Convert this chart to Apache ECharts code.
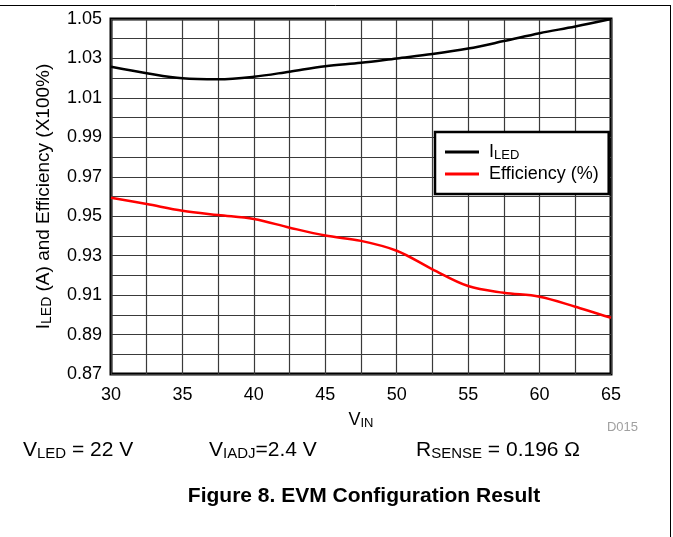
<!DOCTYPE html>
<html>
<head>
<meta charset="utf-8">
<script src="https://cdn.jsdelivr.net/npm/echarts@6/dist/echarts.min.js"></script>
<style>
html,body{margin:0;padding:0;background:#fff;}
#chart{width:673px;height:537px;}
</style>
</head>
<body>
<div id="chart"></div>
<script>
// ---- data ----
const vin = [30, 32.5, 35, 37.5, 40, 42.5, 45, 47.5, 50, 52.5, 55, 57.5, 60, 62.5, 65];
const iled = [1.0258, 1.0225, 1.0199, 1.0194, 1.0207, 1.0233, 1.0260, 1.0278, 1.0300, 1.0322, 1.0350, 1.0388, 1.0428, 1.0462, 1.0500];
const efficiency = [0.9594, 0.9562, 0.9528, 0.9506, 0.9486, 0.9442, 0.9402, 0.9375, 0.9325, 0.9231, 0.9146, 0.9112, 0.9092, 0.9041, 0.8985];
const xTickLabels = ['30', '35', '40', '45', '50', '55', '60', '65'];
const yTickLabels = ['0.87', '0.89', '0.91', '0.93', '0.95', '0.97', '0.99', '1.01', '1.03', '1.05'];
const seriesNames = ['ILED', 'Efficiency (%)'];

const FONT = "'Liberation Sans', Arial, Helvetica, sans-serif";
const chart = echarts.init(document.getElementById('chart'), null, {renderer: 'canvas'});

const subRich = (main, sub) => ({
  m: {fontSize: main, lineHeight: main + 2, fontFamily: FONT, color: '#000'},
  s: {fontSize: sub, lineHeight: sub - 2, verticalAlign: 'bottom', fontFamily: FONT, color: '#000'}
});

const option = {
  animation: false,
  backgroundColor: '#fff',
  textStyle: {fontFamily: FONT},
  grid: {
    left: 111, right: 62, top: 19, bottom: 163,
    show: true, borderColor: '#000', borderWidth: 3, backgroundColor: '#fff'
  },
  legend: {
    data: seriesNames,
    orient: 'vertical',
    left: 435, top: 132,
    backgroundColor: '#fff',
    borderColor: '#000', borderWidth: 2.5, borderRadius: 0,
    padding: [10, 10, 10, 10],
    itemWidth: 34, itemHeight: 3, itemGap: 2,
    icon: 'rect',
    formatter: name => name === 'ILED' ? '{m|I}{s|LED}' : '{m|' + name + '}',
    textStyle: {
      fontSize: 18, fontFamily: FONT, color: '#000', padding: [0, 0, 0, 5], lineHeight: 20,
      rich: {
        m: {fontSize: 18, lineHeight: 20, fontFamily: FONT, color: '#000'},
        s: {fontSize: 13, lineHeight: 11, verticalAlign: 'bottom', fontFamily: FONT, color: '#000'}
      }
    }
  },
  xAxis: {
    type: 'value', min: 30, max: 65, interval: 2.5,
    name: '{m|V}{s|IN}',
    nameLocation: 'middle', nameGap: 36,
    nameTextStyle: {rich: subRich(18, 13)},
    axisLine: {show: false}, axisTick: {show: false},
    axisLabel: {
      margin: 12, fontSize: 18, color: '#000', fontFamily: FONT,
      formatter: v => { const s = String(Math.round(v * 10) / 10); return xTickLabels.includes(s) ? s : ''; }
    },
    splitLine: {show: true, lineStyle: {color: '#3a3a3a', width: 1.2}}
  },
  yAxis: {
    type: 'value', min: 0.87, max: 1.05, interval: 0.01,
    name: '{m|I}{s|LED}{m| (A) and Efficiency (X100%)}',
    nameLocation: 'middle', nameGap: 57, nameRotate: 90,
    nameTextStyle: {rich: subRich(19, 14)},
    axisLine: {show: false}, axisTick: {show: false},
    axisLabel: {
      margin: 9, fontSize: 18, color: '#000', fontFamily: FONT,
      formatter: v => { const s = v.toFixed(2); return yTickLabels.includes(s) ? s : ''; }
    },
    splitLine: {show: true, lineStyle: {color: '#3a3a3a', width: 1.2}}
  },
  series: [
    {
      name: seriesNames[0], type: 'line', smooth: 0.35, showSymbol: false,
      data: vin.map((x, i) => [x, iled[i]]),
      lineStyle: {color: '#000', width: 2.5}, itemStyle: {color: '#000'}
    },
    {
      name: seriesNames[1], type: 'line', smooth: 0.35, showSymbol: false,
      data: vin.map((x, i) => [x, efficiency[i]]),
      lineStyle: {color: '#ff0000', width: 2.5}, itemStyle: {color: '#ff0000'}
    }
  ],
  graphic: [
    {type: 'line', shape: {x1: 0, y1: 5.5, x2: 671, y2: 5.5}, style: {stroke: '#000', lineWidth: 1}},
    {type: 'line', shape: {x1: 670.5, y1: 5, x2: 670.5, y2: 537}, style: {stroke: '#000', lineWidth: 1}},
    {type: 'text', x: 638, y: 427, style: {text: 'D015', fill: '#a0a0a0', font: '13px ' + FONT, align: 'right', verticalAlign: 'middle'}},
    {type: 'text', x: 23, y: 450, style: {text: '{m|V}{s|LED}{m| = 22 V}', rich: subRich(21, 15), verticalAlign: 'middle', align: 'left'}},
    {type: 'text', x: 209, y: 450, style: {text: '{m|V}{s|IADJ}{m|=2.4 V}', rich: subRich(21, 15), verticalAlign: 'middle', align: 'left'}},
    {type: 'text', x: 416, y: 450, style: {text: '{m|R}{s|SENSE}{m| = 0.196 Ω}', rich: subRich(21, 15), verticalAlign: 'middle', align: 'left'}},
    {type: 'text', x: 364, y: 496, style: {text: 'Figure 8. EVM Configuration Result', fill: '#000', font: 'bold 21px ' + FONT, align: 'center', verticalAlign: 'middle'}}
  ]
};
chart.setOption(option);
</script>
</body>
</html>
